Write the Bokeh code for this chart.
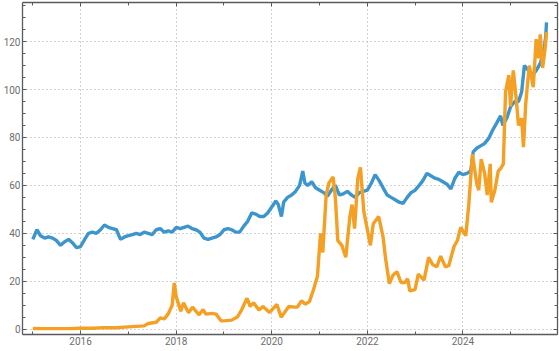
import pandas as pd
from bokeh.plotting import figure
from bokeh.models import FixedTicker, DatetimeAxis, LinearAxis, DatetimeTickFormatter, Range1d
from bokeh.embed import file_html
from bokeh.resources import INLINE

# ---------------- data ----------------
blue_dates = [
    "2015-01-01", "2015-02-01", "2015-03-01", "2015-04-01", "2015-05-01", "2015-06-01",
    "2015-07-01", "2015-08-01", "2015-09-01", "2015-10-01", "2015-11-01", "2015-12-01",
    "2016-01-01", "2016-02-01", "2016-03-01", "2016-04-01", "2016-05-01", "2016-06-01",
    "2016-07-01", "2016-08-01", "2016-09-01", "2016-10-01", "2016-11-01", "2016-12-01",
    "2017-01-01", "2017-02-01", "2017-03-01", "2017-04-01", "2017-05-01", "2017-06-01",
    "2017-07-01", "2017-08-01", "2017-09-01", "2017-10-01", "2017-11-01", "2017-12-01",
    "2018-01-01", "2018-02-01", "2018-03-01", "2018-04-01", "2018-05-01", "2018-06-01",
    "2018-07-01", "2018-08-01", "2018-09-01", "2018-10-01", "2018-11-01", "2018-12-01",
    "2019-01-01", "2019-02-01", "2019-03-01", "2019-04-01", "2019-05-01", "2019-06-01",
    "2019-07-01", "2019-08-01", "2019-09-01", "2019-10-01", "2019-11-01", "2019-12-01",
    "2020-01-01", "2020-02-01", "2020-02-20", "2020-03-15", "2020-04-01", "2020-05-01",
    "2020-06-01", "2020-07-01", "2020-08-01", "2020-08-25", "2020-09-10", "2020-10-01",
    "2020-11-01", "2020-12-01", "2021-01-01", "2021-02-01", "2021-03-01", "2021-04-01",
    "2021-05-01", "2021-06-01", "2021-07-01", "2021-08-01", "2021-09-01", "2021-10-01",
    "2021-11-01", "2021-12-01", "2022-01-01", "2022-02-01", "2022-03-01", "2022-04-01",
    "2022-05-01", "2022-06-01", "2022-07-01", "2022-08-01", "2022-09-01", "2022-10-01",
    "2022-11-01", "2022-12-01", "2023-01-01", "2023-02-01", "2023-03-01", "2023-04-01",
    "2023-05-01", "2023-06-01", "2023-07-01", "2023-08-01", "2023-09-01", "2023-10-01",
    "2023-11-01", "2023-12-01", "2024-01-01", "2024-02-01", "2024-03-01", "2024-03-20",
    "2024-04-15", "2024-05-15", "2024-06-15", "2024-07-15", "2024-08-15", "2024-09-15",
    "2024-10-15", "2024-11-01", "2024-12-01", "2025-01-01", "2025-02-01", "2025-03-01",
    "2025-03-25", "2025-04-15", "2025-05-15", "2025-06-15", "2025-07-15", "2025-08-15",
    "2025-09-10", "2025-09-25", "2025-10-01",
]
blue_values = [
    37.5, 41.5, 39.0, 38.0, 38.5, 38.0,
    37.0, 35.0, 36.5, 37.5, 36.0, 34.0,
    34.5, 37.5, 40.0, 40.5, 40.0, 41.5,
    43.5, 42.5, 42.0, 41.5, 37.5, 38.5,
    39.0, 39.5, 40.0, 39.5, 40.5, 40.0,
    39.5, 41.5, 42.0, 40.5, 41.0, 40.5,
    42.5, 42.0, 42.5, 43.0, 42.0, 41.5,
    40.5, 38.0, 37.5, 38.0, 38.5, 39.5,
    41.5, 42.0, 41.5, 40.5, 40.5, 43.0,
    45.0, 48.5, 48.0, 47.0, 47.0, 48.5,
    51.0, 53.5, 52.0, 47.0, 53.0, 55.0,
    56.0, 57.5, 60.0, 66.0, 61.0, 60.0,
    61.5, 59.0, 58.0, 57.0, 55.5, 58.0,
    60.0, 56.0, 56.5, 57.5, 56.0, 55.0,
    57.0, 57.5, 58.0, 61.0, 64.5, 62.0,
    59.0, 56.0, 55.0, 54.0, 53.0, 52.5,
    55.0, 57.0, 58.0, 60.0, 62.0, 65.0,
    64.0, 63.0, 62.5, 61.5, 60.5, 58.5,
    63.0, 65.5, 64.5, 65.0, 66.0, 74.0,
    75.5, 76.5, 77.5, 79.5, 83.0, 86.0,
    89.0, 85.0, 88.0, 93.0, 95.0, 95.0,
    99.0, 110.0, 108.0, 106.0, 108.0, 111.0,
    116.0, 122.0, 128.0,
]

orange_dates = [
    "2015-01-01", "2015-04-01", "2015-07-01", "2015-10-01", "2016-01-01", "2016-04-01",
    "2016-07-01", "2016-10-01", "2017-01-01", "2017-03-01", "2017-05-01", "2017-06-01",
    "2017-08-01", "2017-09-01", "2017-10-01", "2017-11-01", "2017-12-01", "2017-12-17",
    "2018-01-01", "2018-02-05", "2018-02-25", "2018-04-05", "2018-05-05", "2018-06-25",
    "2018-07-25", "2018-08-15", "2018-10-01", "2018-11-01", "2018-12-10", "2019-01-15",
    "2019-03-01", "2019-04-15", "2019-05-15", "2019-06-26", "2019-07-20", "2019-08-15",
    "2019-09-25", "2019-10-26", "2019-12-15", "2020-02-10", "2020-03-13", "2020-04-01",
    "2020-05-10", "2020-06-15", "2020-07-15", "2020-08-15", "2020-09-15", "2020-10-15",
    "2020-11-15", "2020-12-15", "2021-01-08", "2021-01-25", "2021-02-20", "2021-03-13",
    "2021-04-14", "2021-05-01", "2021-05-20", "2021-06-20", "2021-07-20", "2021-08-20",
    "2021-09-06", "2021-09-25", "2021-10-20", "2021-11-09", "2021-12-05", "2022-01-24",
    "2022-02-15", "2022-03-28", "2022-05-01", "2022-05-20", "2022-06-18", "2022-07-15",
    "2022-08-15", "2022-09-15", "2022-10-15", "2022-11-05", "2022-11-21", "2022-12-31",
    "2023-01-25", "2023-03-10", "2023-04-14", "2023-05-15", "2023-06-15", "2023-07-15",
    "2023-08-20", "2023-09-15", "2023-10-25", "2023-11-20", "2023-12-15", "2024-01-23",
    "2024-02-15", "2024-03-14", "2024-04-15", "2024-05-01", "2024-05-20", "2024-06-15",
    "2024-07-05", "2024-07-28", "2024-08-05", "2024-09-01", "2024-09-27", "2024-10-15",
    "2024-11-05", "2024-11-22", "2024-12-17", "2024-12-30", "2025-01-20", "2025-02-10",
    "2025-03-01", "2025-03-25", "2025-04-08", "2025-04-25", "2025-05-22", "2025-06-22",
    "2025-07-14", "2025-08-02", "2025-08-14", "2025-09-01", "2025-09-20", "2025-10-01",
]
orange_values = [
    0.30, 0.25, 0.26, 0.24, 0.43, 0.42,
    0.67, 0.61, 1.0, 1.2, 1.4, 2.4,
    2.9, 4.7, 4.3, 6.4, 10.0, 19.3,
    13.5, 7.5, 11.0, 6.9, 9.2, 6.0,
    8.2, 6.3, 6.6, 6.3, 3.5, 3.6,
    3.8, 5.2, 8.0, 12.9, 9.5, 11.0,
    8.0, 9.5, 7.0, 10.3, 5.0, 6.5,
    9.5, 9.3, 9.2, 11.8, 10.5, 11.5,
    16.5, 22.0, 40.0, 32.0, 56.0, 61.0,
    63.5, 55.0, 37.0, 35.0, 30.0, 47.0,
    52.0, 42.0, 63.0, 67.5, 49.0, 35.0,
    44.0, 47.0, 38.5, 29.5, 19.0, 22.5,
    24.0, 19.5, 19.5, 21.0, 16.0, 16.5,
    23.0, 20.5, 30.0, 27.0, 26.0, 30.5,
    26.0, 26.5, 34.5, 37.0, 42.5, 39.0,
    52.0, 73.0, 61.0, 58.0, 71.0, 65.0,
    56.0, 69.0, 53.0, 58.0, 66.0, 67.0,
    69.0, 99.0, 106.0, 93.0, 108.0, 97.0,
    85.0, 88.0, 76.0, 94.0, 110.0, 101.0,
    121.0, 113.0, 123.0, 109.0, 117.0, 124.0,
]

x_tick_years = [2016, 2018, 2020, 2022, 2024]
x_minor_years = [2015, 2017, 2019, 2021, 2023, 2025]
y_ticks = [0, 20, 40, 60, 80, 100, 120]
y_minor = list(range(0, 140, 5))
x_start, x_end = "2014-10-14", "2025-12-24"
y_start, y_end = -2.2, 136.3

BLUE = "#3d95cd"
ORANGE = "#f3a024"
AXIS = "#5a5a5a"
LABEL = "#6e6e6e"


def ms(s):
    return pd.Timestamp(s).value / 1e6


bx = pd.to_datetime(blue_dates)
ox = pd.to_datetime(orange_dates)

p = figure(width=559, height=351, x_axis_type="datetime", output_backend="svg",
           toolbar_location=None, min_border_left=0, min_border_right=2,
           min_border_top=2, min_border_bottom=17,
           x_range=Range1d(ms(x_start), ms(x_end)), y_range=Range1d(y_start, y_end))
p.outline_line_color = None
p.background_fill_color = "white"
p.border_fill_color = "white"

p.line(bx, blue_values, line_color=BLUE, line_width=3.4)
p.line(ox, orange_values, line_color=ORANGE, line_width=3.4)

xt = FixedTicker(ticks=[ms(f"{y}-01-01") for y in x_tick_years],
                 minor_ticks=[ms(f"{y}-01-01") for y in x_minor_years])
yt = FixedTicker(ticks=y_ticks, minor_ticks=y_minor)
fmt = DatetimeTickFormatter(years="%Y", months="%Y", days="%Y", hours="%Y",
                            minutes="%Y", seconds="%Y", milliseconds="%Y",
                            microseconds="%Y", minsec="%Y", hourmin="%Y")


def style(ax, labels=True):
    ax.axis_line_color = AXIS
    ax.axis_line_width = 1.3
    ax.major_tick_line_color = AXIS
    ax.minor_tick_line_color = AXIS
    ax.major_tick_in = 4
    ax.major_tick_out = 0
    ax.minor_tick_in = 3
    ax.minor_tick_out = 0
    ax.major_label_text_font = "Roboto"
    if labels:
        ax.major_label_text_color = LABEL
        ax.major_label_text_font_size = "10px"
        ax.major_label_standoff = 2
    else:
        ax.major_label_text_color = None
        ax.major_label_text_font_size = "1px"
        ax.major_label_standoff = 0


xa = p.xaxis[0]
xa.ticker = xt
xa.formatter = fmt
style(xa)
ya = p.yaxis[0]
ya.ticker = yt
style(ya)

top = DatetimeAxis(ticker=xt, formatter=fmt)
style(top, labels=False)
p.add_layout(top, "above")
right = LinearAxis(ticker=yt)
style(right, labels=False)
p.add_layout(right, "right")

for g in (p.xgrid[0], p.ygrid[0]):
    g.grid_line_color = "#a6a6a6"
    g.grid_line_dash = "1 3"
    g.grid_line_width = 1
p.xgrid[0].ticker = xt
p.ygrid[0].ticker = yt

open("out.html", "w").write(file_html(p, INLINE))
